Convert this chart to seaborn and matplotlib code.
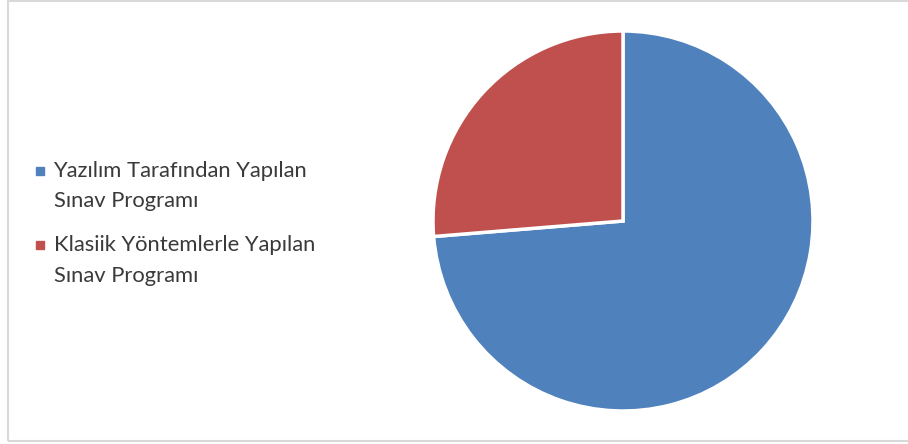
import matplotlib
matplotlib.use("Agg")
import matplotlib.pyplot as plt
import seaborn as sns
from matplotlib.lines import Line2D
from matplotlib.patches import Rectangle
from matplotlib.legend_handler import HandlerLine2D

categories = ["Yazılım Tarafından Yapılan\nSınav Programı",
              "Klasiik Yöntemlerle Yapılan\nSınav Programı"]
values = [73.7, 26.3]
colors = ["#4F81BD", "#C0504D"]

sns.set_theme(style="white")
plt.rcParams['font.family'] = ['Lato', 'DejaVu Sans']

W, H = 908, 444
fig = plt.figure(figsize=(W / 100, H / 100), dpi=100)
fig.patch.set_facecolor("white")

# chart border
fig.add_artist(Rectangle((7.5 / W, 1 - 440.5 / H), (W + 10) / W, (439.5) / H,
                         transform=fig.transFigure, fill=False,
                         edgecolor="#D9D9D9", linewidth=1.5))

cx, cy, r = 623, 221, 190
ax = fig.add_axes([(cx - r) / W, (H - cy - r) / H, 2 * r / W, 2 * r / H])
wedges, _ = ax.pie(values, colors=colors, startangle=90, counterclock=False,
                   wedgeprops=dict(edgecolor="white", linewidth=2.5))
ax.set_xlim(-1.0, 1.0)
ax.set_ylim(-1.0, 1.0)
ax.set_aspect("equal")
ax.axis("off")


class TopMarkerHandler(HandlerLine2D):
    """Place the legend marker on the first line of a two-line label."""
    def __init__(self, shift, **kw):
        super().__init__(**kw)
        self.shift = shift

    def create_artists(self, legend, orig_handle, xdescent, ydescent,
                       width, height, fontsize, trans):
        artists = super().create_artists(legend, orig_handle, xdescent,
                                         ydescent, width, height, fontsize,
                                         trans)
        for a in artists:
            y = a.get_ydata()
            a.set_ydata([v + self.shift for v in y])
        return artists


handles = [Line2D([], [], marker="s", linestyle="none", markersize=5.5,
                  markerfacecolor=c, markeredgecolor=c) for c in colors]
leg = fig.legend(handles, categories, loc="upper left",
                 bbox_to_anchor=(14 / W, 1 - 141 / H), frameon=False,
                 fontsize=15.8, handlelength=0.6, handletextpad=0.3,
                 labelspacing=1.08, labelcolor="#3A3A3A",
                 handler_map={Line2D: TopMarkerHandler(shift=11)})
for t in leg.get_texts():
    t.set_linespacing(1.66)

fig.savefig("out.png", dpi=100, facecolor="white")
